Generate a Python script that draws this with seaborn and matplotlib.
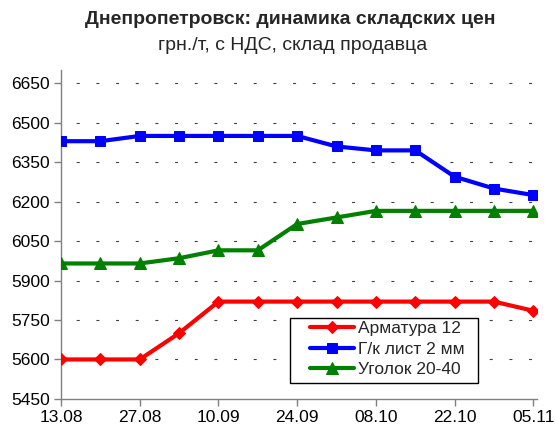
import pandas as pd
import seaborn as sns
import matplotlib.pyplot as plt
from matplotlib.patches import Rectangle

# weekly dates, prices in grn/t
dates = ["13.08", "20.08", "27.08", "03.09", "10.09", "17.09", "24.09",
         "01.10", "08.10", "15.10", "22.10", "29.10", "05.11"]
armatura = [5600, 5600, 5600, 5700, 5820, 5820, 5820, 5820, 5820, 5820, 5820, 5820, 5785]
list_gk = [6430, 6430, 6450, 6450, 6450, 6450, 6450, 6410, 6395, 6395, 6295, 6250, 6225]
ugolok = [5965, 5965, 5965, 5985, 6015, 6015, 6115, 6140, 6165, 6165, 6165, 6165, 6165]

series_names = ["Арматура 12", "Г/к лист 2 мм", "Уголок 20-40"]
yticks = [5450, 5600, 5750, 5900, 6050, 6200, 6350, 6500, 6650]

df = pd.DataFrame({"idx": range(len(dates)), "date": dates,
                   series_names[0]: armatura,
                   series_names[1]: list_gk,
                   series_names[2]: ugolok})
long = df.melt(id_vars=["idx", "date"], var_name="series", value_name="price")

sns.set_style("white")
plt.rcParams['font.family'] = ['Liberation Sans', 'DejaVu Sans']

fig = plt.figure(figsize=(5.55, 4.28), dpi=100)
ax = fig.add_axes([0.110, 0.068, 0.858, 0.768])

styles = {
    series_names[0]: dict(color="#FF0000", marker="D", markersize=6.5),
    series_names[1]: dict(color="#0000FF", marker="s", markersize=7.5),
    series_names[2]: dict(color="#008000", marker="^", markersize=8),
}
for name in series_names:
    sub = long[long["series"] == name]
    st = styles[name]
    sns.lineplot(data=sub, x="idx", y="price", ax=ax, color=st["color"],
                 marker=st["marker"], markersize=st["markersize"],
                 markeredgecolor=st["color"], linewidth=3, label=name, zorder=3)

ax.set_ylim(5450, 6700)
ax.set_xlim(0, 12.1)
ax.set_yticks(yticks)
ax.set_xticks(range(0, len(dates), 2))
ax.set_xticklabels(dates[::2])
ax.set_xlabel("")
ax.set_ylabel("")
ax.tick_params(axis="both", labelsize=12.5, colors="black", length=5, width=1,
               direction="out", left=True, bottom=True, pad=3)
ax.tick_params(axis="both", color="#808080")

for y in yticks[1:]:
    ax.axhline(y, color="#404040", linewidth=0.8, linestyle=(4, (2.7, 15)), zorder=1)

for s in ["top", "right"]:
    ax.spines[s].set_visible(False)
for s in ["left", "bottom"]:
    ax.spines[s].set_color("#808080")
    ax.spines[s].set_linewidth(1)

# legend box (Excel style: wider horizontal padding)
ax.add_patch(Rectangle((0.481, 0.049), 0.395, 0.197, transform=ax.transAxes,
                       facecolor="white", edgecolor="black", linewidth=1, zorder=4))
leg = ax.legend(loc="upper left", bbox_to_anchor=(0.523, 0.236), fontsize=12.5,
                frameon=False, borderpad=0, labelspacing=0.3, handlelength=2.5,
                handletextpad=0.25, borderaxespad=0)
leg.set_zorder(5)

fig.text(0.523, 0.955, "Днепропетровск: динамика складских цен", ha="center",
         va="center", fontsize=14, fontweight="bold")
fig.text(0.527, 0.893, "грн./т, с НДС, склад продавца", ha="center",
         va="center", fontsize=14)

fig.savefig("out.png", dpi=100)
